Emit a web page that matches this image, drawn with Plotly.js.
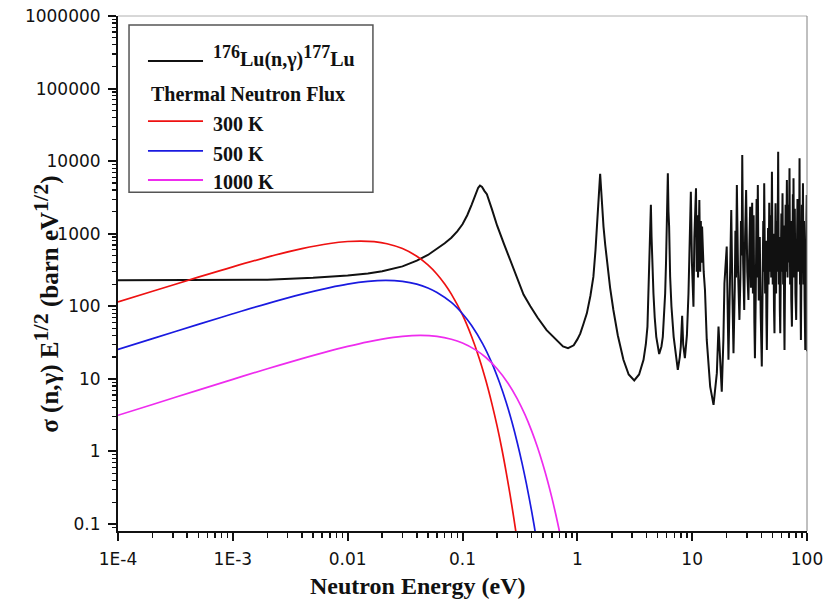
<!DOCTYPE html>
<html>
<head>
<meta charset="utf-8">
<script src="https://cdn.plot.ly/plotly-3.0.1.min.js"></script>
<style>
  html, body { margin: 0; padding: 0; background: #fff; }
  #chart { width: 826px; height: 601px; }
</style>
</head>
<body>
<div id="chart"></div>
<script>
// 176Lu(n,γ)177Lu cross section weighted by sqrt(E)
const eLu = [
  1e-4, 1e-3, 2e-3, 5e-3, 0.01, 0.015, 0.02, 0.03, 0.04, 0.05,
  0.06, 0.07, 0.08, 0.09, 0.1, 0.11, 0.12, 0.13, 0.137, 0.142,
  0.148, 0.155, 0.163, 0.18, 0.2, 0.23, 0.26, 0.3, 0.34, 0.39,
  0.45, 0.54, 0.65, 0.75, 0.83, 0.93, 1.0, 1.06, 1.13, 1.21,
  1.3, 1.38, 1.44, 1.49, 1.53, 1.56, 1.58, 1.61, 1.65, 1.69,
  1.75, 1.81, 1.93, 2.06, 2.25, 2.52, 2.8, 3.13, 3.45, 3.77,
  3.95, 4.08, 4.17, 4.25, 4.3, 4.37, 4.43, 4.48, 4.6, 4.72,
  4.87, 5.16, 5.4, 5.55, 5.7, 5.82, 5.92, 5.97, 6.05, 6.14,
  6.22, 6.3, 6.43, 6.6, 6.9, 7.2, 7.5, 7.8, 7.96, 8.18,
  8.35, 8.64, 9.0, 9.29, 9.55, 9.74, 9.95, 10.1, 10.26, 10.45,
  10.8, 10.95, 11.1, 11.25, 11.55, 11.75, 11.9, 12.05, 12.2, 12.6,
  12.93, 13.4, 14.35, 15.35, 16.4, 16.96, 17.4, 18.1, 18.7, 19.1,
  20.0, 20.4, 20.7, 21.3, 21.9, 22.4, 22.9, 23.5, 23.8, 24.1,
  24.5, 25.1, 25.8, 26.3, 26.6, 27.0, 27.3, 27.8, 28.4, 28.9,
  29.5, 30.2, 30.9, 31.5, 32.0, 32.5, 33.3, 33.8, 34.3, 34.8,
  35.2, 35.8, 36.4, 36.8, 37.3, 38.0, 38.8, 39.5, 40.4, 41.0,
  41.6, 42.0, 42.4, 43.2, 43.9, 44.3, 44.7, 45.3, 45.8, 46.3,
  46.9, 47.5, 48.2, 48.8, 49.5, 50.3, 51.0, 51.6, 52.1, 52.6,
  53.2, 53.8, 54.5, 55.3, 56.1, 56.8, 57.5, 58.0, 58.5, 59.2,
  59.8, 60.4, 61.2, 62.0, 62.7, 63.2, 63.7, 64.4, 65.1, 65.7,
  66.8, 67.7, 68.6, 69.4, 70.4, 71.3, 72.2, 73.0, 73.9, 74.6,
  75.3, 75.8, 76.3, 77.2, 78.3, 79.3, 80.5, 81.5, 82.6, 83.5,
  84.5, 85.3, 86.1, 86.9, 87.6, 88.0, 88.5, 89.4, 90.3, 91.2,
  92.2, 93.2, 94.2, 95.3, 96.6, 97.5, 98.3, 98.8, 99.5, 100
];
const sigmaLu = [
  229, 230, 233, 247, 265, 283, 305, 355, 425, 510,
  620, 740, 880, 1080, 1350, 1800, 2500, 3500, 4300, 4600,
  4400, 3900, 3500, 2200, 1300, 720, 440, 240, 145, 100,
  70, 47, 35, 28, 26.5, 29, 35, 42, 57, 80,
  140, 256, 600, 1400, 3000, 5200, 6700, 4200, 2200, 1253,
  700, 436, 180, 89, 40, 18.3, 11.5, 9.5, 11.5, 18.3,
  30, 52.5, 151, 400, 740, 2500, 900, 436, 151, 70,
  38, 22, 28, 38, 80, 151, 400, 740, 2000, 6800,
  2000, 1253, 256, 100, 38, 20, 13.3, 20, 27.9, 73.8,
  30, 19.3, 40, 151, 800, 3800, 400, 130, 99, 900,
  4240, 300, 1800, 250, 2920, 300, 1500, 400, 1253, 300,
  168, 34.4, 7.8, 4.39, 12, 52.5, 20, 6.68, 34.4, 208,
  664, 60, 18.3, 200, 2128, 150, 22.6, 180, 1100, 250,
  4700, 300, 65, 250, 1500, 500, 12160, 400, 89, 900,
  4010, 300, 122, 700, 2360, 180, 2680, 150, 1800, 60,
  19.3, 150, 3000, 250, 4700, 120, 900, 80, 14.8, 150,
  1500, 300, 4970, 150, 800, 70, 25, 200, 1200, 200,
  2680, 300, 1800, 250, 7160, 200, 1000, 90, 42.6, 300,
  2630, 150, 1500, 300, 13500, 200, 900, 90, 42.6, 400,
  1900, 300, 3612, 200, 1300, 80, 25, 250, 2500, 300,
  5510, 250, 2500, 400, 7980, 200, 1500, 120, 52.5, 400,
  3500, 400, 5810, 250, 2200, 150, 65, 400, 3000, 300,
  1800, 400, 10960, 200, 1200, 90, 34.4, 300, 2500, 400,
  4970, 200, 1500, 120, 25, 300, 2500, 400, 3420, 24
];

// Thermal neutron flux spectra
const e300 = [1e-4, 2e-4, 5e-4, 1e-3, 2e-3, 4e-3, 7e-3, 0.01, 0.013, 0.017, 0.022, 0.03, 0.04, 0.05,
              0.06, 0.07, 0.08, 0.1, 0.12, 0.14, 0.16, 0.18, 0.2, 0.22, 0.24, 0.26, 0.28, 0.3];
const f300 = [115, 161, 252, 350, 476, 623, 734, 781, 793, 777, 728, 624, 489, 372,
              277, 203, 147, 76, 38.3, 19.1, 9.4, 4.6, 2.25, 1.09, 0.52, 0.25, 0.12, 0.058];

const e500 = [1e-4, 2e-4, 5e-4, 1e-3, 2e-3, 4e-3, 7e-3, 0.01, 0.015, 0.0215, 0.03, 0.04, 0.05, 0.06,
              0.08, 0.1, 0.12, 0.15, 0.18, 0.21, 0.24, 0.27, 0.3, 0.33, 0.36, 0.39, 0.42, 0.45];
const f500 = [25.4, 35.9, 56.4, 78.8, 109, 147, 181, 202, 220, 227, 220, 202, 179, 155,
              113, 79, 54.5, 30.4, 16.6, 8.9, 4.76, 2.52, 1.32, 0.69, 0.36, 0.187, 0.097, 0.05];

const e1000 = [1e-4, 2e-4, 5e-4, 1e-3, 2e-3, 4e-3, 7e-3, 0.01, 0.015, 0.02, 0.03, 0.043, 0.06, 0.08, 0.1,
               0.13, 0.16, 0.2, 0.25, 0.3, 0.35, 0.4, 0.45, 0.5, 0.55, 0.6, 0.65, 0.7, 0.75];
const f1000 = [3.15, 4.44, 7.0, 9.85, 13.8, 19.0, 24.3, 28.0, 32.4, 35.3, 38.5, 39.7, 38.5, 35.2, 31.2,
               25.1, 19.7, 13.8, 8.66, 5.31, 3.21, 1.92, 1.14, 0.67, 0.395, 0.231, 0.134, 0.078, 0.045];

// Axis ticks
const xTickVals = [1e-4, 1e-3, 0.01, 0.1, 1, 10, 100];
const xTickText = ['1E-4', '1E-3', '0.01', '0.1', '1', '10', '100'];
const yTickVals = [0.1, 1, 10, 100, 1000, 10000, 100000, 1000000];
const yTickText = ['0.1', '1', '10', '100', '1000', '10000', '100000', '1000000'];

// Legend labels
const big = s => '<span style="font-size:18px">' + s + '</span>';
const seriesNames = ['<sup>' + big('176') + '</sup>Lu(n,γ)<sup>' + big('177') + '</sup>Lu', '300 K', '500 K', '1000 K'];
const fluxHeader = 'Thermal Neutron Flux';
const colors = ['#111111', '#ee1111', '#1a1ae0', '#ee2cee'];

function minorTicks(majors, lo, hi) {
  const out = [];
  majors.concat([majors[0] / 10]).forEach(m => {
    for (let k = 2; k <= 9; k++) {
      const v = m * k;
      if (v > lo && v < hi) out.push(v);
    }
  });
  return out;
}

const tickFont = { family: 'DejaVu Sans, Arial, sans-serif', size: 17, color: '#111' };
const serifBold = 'Liberation Serif, Times New Roman, serif';

const traces = [
  { x: eLu, y: sigmaLu, mode: 'lines', line: { color: colors[0], width: 2 }, hoverinfo: 'skip' },
  { x: e300, y: f300, mode: 'lines', line: { color: colors[1], width: 1.7, shape: 'spline' }, hoverinfo: 'skip' },
  { x: e500, y: f500, mode: 'lines', line: { color: colors[2], width: 1.7, shape: 'spline' }, hoverinfo: 'skip' },
  { x: e1000, y: f1000, mode: 'lines', line: { color: colors[3], width: 1.7, shape: 'spline' }, hoverinfo: 'skip' }
];

// Legend box geometry (paper units)
const legX0 = 0.016, legX1 = 0.370, legY0 = 0.658, legY1 = 0.9825;
const keyX0 = 0.0435, keyX1 = 0.1234, labelX = 0.1350;
const keyY = [0.9126, 0.796, 0.738, 0.6816];
const labelY = [0.922, 0.790, 0.733, 0.6767];

const shapes = [
  { type: 'line', xref: 'paper', yref: 'paper', x0: 0, x1: 1, y0: 1, y1: 1, line: { color: '#b0b0b0', width: 1 } },
  { type: 'line', xref: 'paper', yref: 'paper', x0: 1, x1: 1, y0: 0, y1: 1, line: { color: '#808080', width: 1 } },
  { type: 'rect', xref: 'paper', yref: 'paper', x0: legX0, x1: legX1, y0: legY0, y1: legY1,
    line: { color: '#555', width: 1.5 }, fillcolor: 'rgba(255,255,255,0)' }
];
keyY.forEach((y, i) => shapes.push({
  type: 'line', xref: 'paper', yref: 'paper', x0: keyX0, x1: keyX1, y0: y, y1: y,
  line: { color: colors[i], width: 1.8 }
}));

const legendFont = { family: serifBold, size: 20, color: '#111', weight: 'bold' };
const annotations = seriesNames.map((name, i) => ({
  xref: 'paper', yref: 'paper', x: labelX, y: labelY[i], xanchor: 'left', yanchor: 'middle',
  text: name, showarrow: false, font: legendFont
}));
annotations.push({
  xref: 'paper', yref: 'paper', x: 0.0450, y: 0.8485, xanchor: 'left', yanchor: 'middle',
  text: fluxHeader, showarrow: false, font: legendFont
});
// Axis titles
annotations.push({
  xref: 'paper', yref: 'paper', x: 0.4347, y: -0.107, xanchor: 'center', yanchor: 'middle',
  text: 'Neutron Energy (eV)', showarrow: false,
  font: { family: serifBold, size: 24, color: '#111', weight: 'bold' }
});
const supY = s => '<sup><span style="font-size:22px">' + s + '</span></sup>';
annotations.push({
  xref: 'paper', yref: 'paper', x: -0.104, y: 0.44, xanchor: 'center', yanchor: 'middle',
  textangle: -90, text: 'σ (n,γ) E' + supY('1/2') + ' (barn eV' + supY('1/2') + ')', showarrow: false,
  font: { family: serifBold, size: 25, color: '#111', weight: 'bold' }
});

const axisCommon = {
  type: 'log', tickmode: 'array', ticks: 'outside', ticklen: 8, tickwidth: 2, tickcolor: '#111',
  showline: true, linecolor: '#111', linewidth: 2, mirror: false, showgrid: false, zeroline: false,
  tickfont: tickFont, ticklabelstandoff: 4
};

const layout = {
  width: 826, height: 601,
  margin: { l: 118, r: 19, t: 16, b: 70 },
  paper_bgcolor: '#fff', plot_bgcolor: '#fff',
  showlegend: false,
  xaxis: Object.assign({}, axisCommon, {
    range: [-4, 2], tickvals: xTickVals, ticktext: xTickText,
    minor: { tickmode: 'array', tickvals: minorTicks(xTickVals, 1e-4, 100), ticks: 'outside',
             ticklen: 5, tickwidth: 1.5, tickcolor: '#111', showgrid: false }
  }),
  yaxis: Object.assign({}, axisCommon, {
    range: [-1.096, 6], tickvals: yTickVals, ticktext: yTickText,
    minor: { tickmode: 'array', tickvals: minorTicks(yTickVals, 0.08, 1000000), ticks: 'outside',
             ticklen: 4, tickwidth: 1.2, tickcolor: '#111', showgrid: false }
  }),
  shapes: shapes,
  annotations: annotations
};

Plotly.newPlot('chart', traces, layout, { staticPlot: true, displayModeBar: false });
</script>
</body>
</html>
